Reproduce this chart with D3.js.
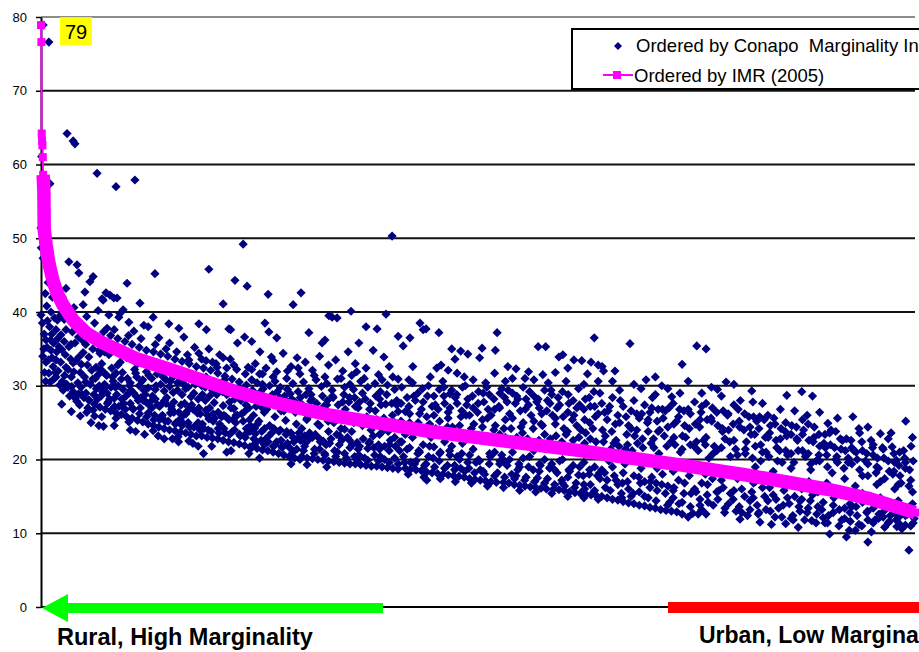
<!DOCTYPE html>
<html><head><meta charset="utf-8">
<script src="https://cdn.jsdelivr.net/npm/d3@7"></script>
<style>body{margin:0;background:#fff;overflow:hidden;} svg{display:block;font-family:Arial,"Liberation Sans",sans-serif;}</style>
</head><body><svg id="chart" width="919" height="652"></svg>
<script>
const yTicks = [0,10,20,30,40,50,60,70,80];
const seriesNames = ["Ordered by Conapo  Marginality Index", "Ordered by IMR (2005)"];
const endLabels = ["Rural, High Marginality", "Urban, Low Marginality"];
const peakLabel = "79";
const nMunicipalities = 2447;

// IMR (2005), municipalities sorted from highest to lowest: [rank, IMR]
const imrSorted = [
[0,78.9],[1,76.6],[2,64.2],[3,63.2],[4,62.6],[5,61.0],[6,58.6],[7,57.6],[8,56.4],[9,51.2],[10,50.8],
[14,49.2],[20,47.2],[25,46.0],[34,44.2],[45,42.6],[61,41.0],[90,38.9],[128,37.1],[173,35.8],[200,35.2],
[265,33.7],[355,32.3],[455,30.7],[545,29.2],[665,27.6],[810,26.0],[950,24.9],[1090,23.8],[1330,22.3],
[1510,21.2],[1620,20.4],[1785,19.3],[1975,17.9],[2210,15.9],[2320,14.7],[2447,12.8]
];

// IMR by municipality, ordered by Conapo marginality index: [rank, IMR]
const conapoPoints = [
[6,78.9],[22,76.6],[2,61.1],[25,57.4],[73,64.2],[90,63.2],[95,62.8],[157,58.8],[210,57.0],[263,57.9],
[0,51.4],[1,48.7],[6,47.3],[78,46.8],[101,46.4],[106,45.3],[146,44.8],[137,44.1],[123,42.7],[193,42.3],[213,41.9],[171,41.8],[277,41.2],[241,43.9],[319,45.2],[470,45.8],[543,44.3],[577,43.5],[566,49.2],[510,41.1],[636,42.4],[728,42.6],[706,41.0],
[221,39.8],[314,39.3],[358,38.4],[386,37.8],[442,38.4],[526,37.7],[627,38.5],[638,37.3],[750,37.2],[795,36.2],[806,39.5],
[0,39.6],[28,40.0],[14,36.2],[28,34.8],[42,33.5],[14,33.2],[22,31.7],[42,31.2],[42,37.6],[56,36.9],[4,38.5],[8,35.0],[10,31.8],[18,38.8],[30,37.0],[34,32.6],[36,30.9],[48,32.0],[50,35.3],[12,42.5],[20,44.0],[16,40.8],[32,42.0],[26,30.5],[46,38.9],
[78,35.3],[90,33.1],[134,33.9],[106,33.9],[154,32.5],[162,34.8],[112,29.8],[134,28.1],[146,26.7],
[60,30.6],[75,29.8],[90,29.2],[105,28.9],[120,28.4],[135,28.0],[150,27.5],[165,27.1],
[60,42.0],[80,39.8],[100,38.6],[120,37.6],[140,37.0],[160,36.4],
[65,36.0],[70,32.5],[85,31.2],[95,35.8],[110,31.8],[118,34.5],[125,30.5],[130,32.8],[145,30.9],[155,29.6],[160,31.5],[100,27.9],[128,26.4],[150,25.9],[65,39.0],[88,37.3],[115,36.2],[150,38.5],[70,43.2],[118,41.0],
[182,42.6],[204,41.9],[174,41.6],[230,40.3],[218,39.3],[246,38.6],[288,38.2],[210,25.6],[246,25.1],[314,23.9],[210,31.7],[265,31.7],[285,30.8],[294,27.8],
[180,26.8],[195,26.6],[210,26.3],[225,26.1],[240,25.8],[255,25.6],[270,25.3],[285,25.1],[300,24.8],
[175,37.3],[195,36.8],[215,36.4],[235,36.0],[255,35.6],[275,35.2],[295,34.8],
[180,31.6],[200,31.2],[225,30.9],[250,30.4],[275,30.0],[300,29.7],
[170,33.0],[185,29.0],[190,34.2],[205,28.3],[215,32.8],[230,29.5],[240,33.8],[250,27.6],[260,29.0],[270,33.0],[280,28.4],[295,31.9],[175,24.5],[225,27.3],[265,23.8],[300,26.3],[190,39.6],[260,37.4],[300,38.0],
[370,31.2],[414,33.5],[442,34.4],[342,27.7],[384,23.1],[414,22.5],[398,26.0],
[315,24.6],[330,24.4],[345,24.2],[360,24.0],[375,23.9],[390,23.7],[405,23.6],[420,23.4],[435,23.2],
[315,34.6],[335,34.3],[355,34.0],[375,33.6],[395,33.3],[415,33.0],[435,32.6],
[320,29.5],[345,29.3],[370,29.1],[395,28.8],[420,28.5],[440,28.2],
[310,27.0],[325,31.6],[340,26.0],[350,30.8],[365,27.2],[380,31.8],[390,25.5],[400,30.2],[410,26.6],[425,31.4],[440,25.0],[330,36.5],[360,35.8],[400,36.6],[430,35.2],[345,22.8],[385,22.4],[440,21.8],
[463,37.6],[531,37.6],[514,30.8],[526,29.0],[538,25.4],[462,26.7],[493,32.5],
[450,23.2],[465,23.0],[480,22.9],[495,22.8],[510,22.6],[525,22.4],[540,22.3],[555,22.1],[570,21.9],[585,21.7],
[455,32.4],[475,32.1],[495,31.7],[515,31.3],[535,30.9],[555,30.5],[575,30.1],
[460,28.0],[485,27.7],[510,27.3],[540,26.9],[570,26.5],
[450,30.0],[470,25.5],[480,29.4],[500,24.8],[520,28.8],[530,33.6],[545,25.0],[560,28.0],[575,24.2],[580,32.5],[470,35.0],[500,34.2],[550,35.8],[455,20.8],[520,21.0],[570,36.6],
[590,21.6],[605,21.5],[620,21.3],[635,21.2],[650,21.0],[665,20.8],[680,20.6],[695,20.4],[710,20.2],[725,20.0],[612,20.2],[700,19.4],
[590,30.8],[605,30.4],[620,30.2],[640,30.0],[655,30.6],[670,29.8],[690,29.5],[705,30.3],[720,29.2],
[595,26.0],[610,25.2],[625,26.4],[640,24.6],[655,25.8],[670,24.0],[685,25.3],[700,23.6],[715,24.8],[600,23.5],[630,22.8],[660,22.4],[690,22.2],[720,22.9],
[600,33.0],[613,34.6],[630,32.4],[645,33.9],[660,31.9],[678,34.4],[700,32.6],[717,33.8],[590,36.0],[660,36.5],
[730,20.4],[745,20.2],[760,20.1],[775,20.0],[790,19.9],[805,19.8],[820,19.7],[835,19.6],[850,19.5],[865,19.4],[745,19.3],[800,19.0],
[787,35.8],[815,39.3],[829,39.2],[868,40.1],
[735,30.5],[750,29.6],[770,30.8],[785,29.9],[800,30.3],[815,29.4],[830,30.9],[850,29.8],[865,30.2],
[740,33.2],[760,32.1],[780,34.0],[805,32.8],[825,33.5],[845,32.0],[860,34.6],
[730,24.2],[745,25.6],[760,23.0],[775,24.8],[790,22.5],[805,23.8],[820,25.0],[835,22.0],[850,24.1],[865,21.6],[740,22.2],[780,21.4],[830,21.0],[755,27.9],[800,27.4],[845,27.8],
[880,19.4],[895,19.3],[910,19.2],[925,19.1],[940,19.1],[955,19.0],[970,18.9],[985,18.8],[1000,18.7],
[983,50.3],[966,39.7],[910,38.0],[941,37.7],[1000,36.7],[960,33.9],[910,32.4],[884,31.9],[1000,30.9],
[875,29.5],[895,30.6],[915,29.8],[935,30.3],[950,29.2],[970,30.1],[990,29.5],
[880,33.0],[930,34.8],[975,32.6],[890,35.8],[945,31.5],
[870,23.8],[885,22.3],[900,24.6],[915,21.5],[930,23.2],[945,22.0],[960,24.0],[975,21.2],[990,23.0],[1005,22.4],[890,20.6],[950,20.4],[880,27.2],[920,26.8],[965,27.5],[1000,26.5],
[1020,18.8],[1035,18.7],[1050,18.6],[1065,18.5],[1080,18.3],[1095,18.2],[1110,18.1],[1125,18.0],[1140,17.9],[1080,17.2],
[1061,38.5],[1078,37.7],[1033,36.5],[1014,35.4],[1041,32.6],[1070,37.6],[1114,37.2],[1108,32.4],[1120,32.8],[1140,32.1],
[1010,29.8],[1025,28.4],[1040,30.4],[1055,29.0],[1070,27.8],[1085,30.0],[1100,28.6],[1115,29.5],[1130,27.6],[1145,28.9],[1020,26.5],[1060,26.2],[1100,26.0],[1140,25.6],
[1010,22.4],[1025,21.4],[1040,23.0],[1055,20.8],[1070,22.0],[1085,20.4],[1100,21.7],[1115,19.8],[1130,22.4],[1145,20.6],[1050,19.8],
[1155,17.8],[1170,17.7],[1185,17.6],[1200,17.4],[1215,17.3],[1230,17.2],[1245,17.1],[1260,17.0],[1275,16.9],
[1150,35.0],[1175,34.7],[1195,34.3],[1159,33.6],[1235,35.1],[1228,33.8],[1272,34.8],[1277,37.2],[1165,31.7],[1210,30.8],[1270,31.7],
[1150,29.4],[1165,27.6],[1180,29.8],[1195,28.2],[1210,27.0],[1225,29.2],[1240,27.8],[1255,28.8],[1270,26.8],[1285,29.0],[1190,26.0],[1250,25.6],
[1150,21.8],[1165,20.4],[1180,22.2],[1195,19.6],[1210,21.4],[1225,20.0],[1240,22.6],[1255,19.4],[1270,21.0],[1285,19.8],[1175,18.8],[1230,18.6],
[1295,16.9],[1310,16.8],[1325,16.6],[1340,16.5],[1355,16.4],[1370,16.3],[1385,16.2],[1400,16.1],[1415,16.0],
[1307,32.6],[1330,32.3],[1365,31.9],[1392,35.3],[1413,35.3],[1405,31.5],
[1290,29.6],[1305,27.8],[1320,29.0],[1335,28.2],[1350,29.8],[1365,27.4],[1380,28.6],[1395,27.0],[1410,29.4],[1425,27.6],[1300,25.4],[1350,25.0],[1400,24.8],[1320,31.0],[1380,30.8],
[1290,20.6],[1305,19.2],[1320,21.0],[1335,18.6],[1350,20.2],[1365,19.0],[1380,21.2],[1395,18.4],[1410,20.0],[1425,18.9],[1330,17.8],[1390,17.5],
[1435,16.0],[1450,15.9],[1465,15.8],[1480,15.6],[1495,15.5],[1510,15.4],[1525,15.3],[1540,15.2],[1555,15.1],
[1461,34.2],[1450,33.9],[1492,33.5],[1514,33.4],[1540,33.2],[1549,36.5],[1440,31.8],[1475,32.4],[1530,31.6],[1560,32.8],
[1430,28.8],[1445,27.0],[1460,29.2],[1475,26.4],[1490,28.0],[1505,29.6],[1520,26.8],[1535,28.4],[1550,27.2],[1565,29.0],[1440,24.8],[1500,24.6],[1545,24.2],[1470,23.4],[1525,23.6],
[1430,19.4],[1445,18.2],[1460,20.0],[1475,17.6],[1490,19.2],[1505,17.9],[1520,19.6],[1535,18.0],[1550,19.0],[1565,17.4],[1460,16.8],[1520,16.6],
[1570,15.0],[1585,14.8],[1600,14.6],[1615,14.5],[1630,14.3],[1645,14.1],[1660,14.0],[1675,13.8],[1690,13.7],[1705,13.5],
[1571,32.6],[1575,32.0],[1607,32.0],[1649,35.7],[1694,30.8],[1620,29.4],[1660,30.2],
[1570,27.6],[1585,25.4],[1600,28.4],[1615,26.0],[1630,27.2],[1645,24.6],[1660,28.0],[1675,25.6],[1690,27.4],[1705,26.4],[1580,23.2],[1610,22.6],[1640,23.4],[1670,22.2],[1700,23.8],[1595,21.4],[1655,21.2],
[1570,18.6],[1585,17.2],[1600,19.0],[1615,16.6],[1630,18.2],[1645,16.0],[1660,17.8],[1675,15.6],[1690,17.0],[1705,16.2],[1625,15.4],
[1720,13.4],[1735,13.2],[1750,13.1],[1765,13.0],[1780,12.9],[1795,12.6],[1812,12.2],[1825,12.7],[1840,12.6],
[1738,30.0],[1755,29.6],[1789,29.0],[1766,28.5],[1795,32.9],[1836,35.4],[1720,31.2],[1812,30.6],
[1710,27.0],[1725,25.2],[1740,26.8],[1755,24.4],[1770,27.6],[1785,25.8],[1800,26.6],[1815,24.2],[1830,27.8],[1845,25.4],[1715,22.8],[1745,23.2],[1775,22.0],[1805,23.0],[1835,22.4],[1730,20.8],[1790,21.0],
[1710,17.6],[1725,15.8],[1740,18.0],[1755,16.4],[1770,14.8],[1785,17.2],[1800,15.4],[1815,17.8],[1830,16.0],[1845,14.6],[1760,14.2],
[1862,35.0],[1877,29.8],[1894,29.5],[1918,30.5],[1940,30.2],[1958,28.0],
[1850,27.2],[1865,25.4],[1880,27.0],[1895,24.6],[1910,26.6],[1925,24.0],[1940,27.4],[1955,25.2],[1970,26.2],[1985,24.4],[1855,22.6],[1885,21.8],[1915,22.8],[1945,21.4],[1975,22.4],[1870,20.2],[1930,20.4],
[1850,16.8],[1865,15.2],[1880,17.4],[1895,14.6],[1910,16.2],[1925,14.0],[1940,15.8],[1955,13.6],[1970,15.0],[1985,13.2],[1862,12.6],[1957,11.9],[1900,18.2],
[1990,29.3],[1993,27.8],[2088,28.7],[2035,26.0],
[1995,25.8],[2010,24.2],[2025,25.4],[2040,23.6],[2055,24.8],[2070,22.8],[2085,25.0],[2100,23.4],[2115,24.4],[2000,21.8],[2030,21.0],[2060,21.6],[2090,20.6],[2120,21.2],[2015,19.8],[2075,19.6],
[1990,15.6],[2005,13.8],[2020,16.2],[2035,14.4],[2050,15.2],[2065,13.4],[2080,15.8],[2095,14.0],[2110,15.0],[2125,13.0],[2013,11.5],[2045,11.2],[2085,11.3],[2000,17.0],[2060,17.4],[2105,12.4],[2120,10.8],
[2000,19.0],[2050,18.4],[2100,18.8],[2150,17.0],[2200,16.8],[2250,17.4],[2300,17.8],[2350,17.0],[2400,16.6],
[2130,29.2],[2160,28.6],[2145,26.0],[2203,24.9],
[2135,24.0],[2150,22.6],[2165,24.4],[2180,21.8],[2195,23.4],[2210,22.0],[2225,23.8],[2240,21.4],[2255,22.8],[2140,20.4],[2170,19.8],[2200,20.6],[2230,19.6],[2260,20.2],[2155,18.6],[2215,18.2],
[2130,14.6],[2145,12.8],[2160,15.2],[2175,13.6],[2190,14.2],[2205,12.4],[2220,14.8],[2235,13.2],[2250,12.0],[2265,14.0],[2158,11.7],[2190,12.1],[2208,9.9],[2255,9.5],[2263,10.4],
[2273,25.8],[2315,24.4],[2350,23.5],[2421,25.2],[2330,22.0],
[2270,21.6],[2285,20.0],[2300,21.2],[2315,19.4],[2330,20.6],[2345,18.8],[2360,20.2],[2375,18.4],[2390,19.6],[2405,17.8],[2420,18.8],[2435,17.2],[2383,21.7],[2415,21.2],[2395,19.9],
[2270,13.6],[2285,12.4],[2300,14.2],[2315,11.8],[2330,13.4],[2345,12.0],[2360,13.0],[2375,11.6],[2390,12.8],[2405,11.2],[2420,12.4],[2435,11.0],[2280,10.4],[2315,8.8],[2325,10.2],[2372,11.4],[2396,10.9],[2430,7.7],[2420,11.1],[2300,15.4],[2350,14.8],[2400,14.4],[2440,14.0],[2280,16.4],[2340,16.6],[2390,16.0],[2440,15.6],
[5,34.0],[9,37.0],[13,30.6],[17,35.2],[21,33.5],[24,38.0],[27,36.2],[31,33.8],[35,35.8],[38,39.2],[40,31.8],[44,34.6],[47,36.4],[52,30.1],[55,33.2],[58,34.9],[62,29.4],[66,31.4],[68,34.2],[72,30.2],[76,32.2],[80,28.6],[83,33.6],[86,29.9],[92,31.9],[96,28.3],[98,33.4],[103,30.4],[108,27.4],[113,32.9],[116,28.8],[122,31.2],[126,29.0],[131,27.0],[138,30.2],[142,32.1],[148,28.8],[152,31.0],[158,28.2],[163,30.0],[70,37.6],[84,35.6],[105,36.6],[125,35.6],[145,35.0],[165,34.4],[58,27.5],[85,26.5],[110,25.9],[140,25.0],[162,24.6],[55,39.6],[92,40.6],[128,39.4],[160,40.2],
[168,28.6],[178,30.2],[188,27.8],[198,32.4],[208,29.8],[218,27.2],[228,31.8],[238,28.6],[248,30.0],[258,26.8],[268,31.2],[278,27.0],[288,29.4],[298,27.6],[178,34.6],[198,35.2],[228,34.4],[258,33.6],[288,33.2],
[170,25.8],[205,24.6],[250,24.0],[290,23.4],
[310,31.0],[320,28.2],[335,30.2],[350,27.6],[360,29.9],[372,26.4],[382,30.4],[392,27.4],[405,29.6],[415,27.0],[428,29.0],[438,26.3],
[318,26.0],[332,25.4],[348,25.2],[362,26.3],[378,25.0],[395,24.6],[412,25.0],[428,24.4],[445,24.0],
[328,23.2],[368,22.8],[425,22.2],
[460,29.8],[472,27.0],[484,30.6],[496,26.4],[508,29.2],[518,25.8],[528,27.8],[540,29.6],[550,26.0],[562,29.4],[574,27.4],[584,25.4],
[452,24.8],[468,24.0],[482,25.2],[498,23.6],[512,24.2],[528,23.4],[542,24.0],[558,23.2],[572,23.0],[585,23.8],
[478,21.8],[532,21.2],[582,20.8],
[462,33.4],[490,33.0],[520,32.4],[548,32.2],[572,31.6],
[595,28.6],[615,29.2],[632,28.0],[648,28.8],[668,28.4],[685,28.0],[698,28.9],[712,27.8],[726,28.4],[742,28.8],[758,28.2],[772,27.6],[788,28.6],[802,28.0],[818,28.4],[832,27.4],[848,28.8],[862,27.8],[878,28.4],[892,27.8],[908,28.2],[922,27.6],[938,28.6],[952,27.4],[968,28.8],[982,27.6],[996,28.0],
[598,24.2],[618,23.8],[638,23.2],[652,24.2],[672,22.6],[688,23.8],[708,22.4],[722,23.6],[738,23.2],[752,22.8],[768,23.4],[782,22.4],[798,22.0],[812,22.8],[828,23.4],[842,22.6],[858,23.0],[872,22.0],[888,21.4],[902,22.8],[918,22.2],[932,21.6],[948,23.4],[962,21.8],[978,22.6],[992,21.8],
[600,22.2],[625,22.0],[650,21.8],[675,21.6],[705,21.0],[735,21.2],[765,20.8],[795,20.6],[825,20.4],[855,20.2],[885,20.0],[915,19.9],[945,19.8],[975,19.6],[1000,19.4],
[612,31.6],[650,31.2],[688,31.0],[725,31.6],[765,31.4],[795,31.2],[840,31.0],[870,31.4],[905,31.0],[955,30.8],[985,31.2],
[620,27.0],[680,26.6],[740,26.6],[790,26.0],[840,25.8],[890,25.6],[940,25.4],[990,25.0],
[1008,27.6],[1030,27.2],[1048,28.0],[1065,26.8],[1082,28.6],[1095,27.2],[1112,26.8],[1128,28.6],[1145,27.0],[1160,28.4],[1178,26.6],[1192,27.4],[1208,28.6],[1222,26.4],[1238,29.0],[1252,26.8],[1268,28.2],[1282,27.2],[1298,28.4],[1312,26.2],[1328,27.6],[1342,26.6],[1358,28.2],[1372,26.0],[1388,27.8],[1402,26.2],[1418,28.0],[1432,26.0],[1448,28.4],[1462,25.8],[1478,27.6],[1492,26.0],[1508,27.4],[1522,25.4],[1538,27.2],[1552,25.8],
[1012,24.2],[1032,25.0],[1050,24.4],[1068,23.8],[1088,24.8],[1105,24.2],[1122,23.6],[1138,24.4],[1155,23.2],[1172,24.6],[1188,23.4],[1205,24.2],[1220,23.2],[1236,24.4],[1252,23.0],[1268,24.0],[1284,23.4],[1300,23.0],[1316,24.2],[1332,23.0],[1348,23.6],[1362,22.8],[1378,24.2],[1394,22.6],[1410,23.4],[1426,22.8],[1442,23.2],[1458,22.4],[1474,23.8],[1490,22.6],[1506,23.0],[1522,22.2],[1538,22.8],[1554,22.4],
[1015,20.4],[1035,19.6],[1058,21.2],[1078,19.4],[1098,20.2],[1118,21.0],[1138,19.2],[1158,19.2],[1178,20.8],[1198,18.8],[1218,19.6],[1238,18.4],[1258,20.4],[1278,18.2],[1298,19.8],[1318,18.0],[1338,19.4],[1358,17.6],[1378,18.6],[1398,19.2],[1418,17.4],[1438,18.6],[1458,17.2],[1478,18.6],[1498,16.8],[1518,17.8],[1538,16.6],[1558,17.8],
[1030,30.8],[1090,31.2],[1125,30.6],[1185,31.2],[1245,30.4],[1300,30.6],[1355,31.0],[1420,30.4],[1470,30.6],[1520,30.2],[1560,30.6],
[1028,18.0],[1072,17.6],[1118,17.4],[1160,17.0],[1205,16.8],[1250,16.4],[1295,16.2],[1340,15.8],[1385,15.6],[1430,15.4],[1475,15.0],[1520,14.8],[1560,14.6],
[1578,26.4],[1592,27.2],[1608,24.8],[1622,28.0],[1638,25.8],[1652,26.6],[1668,24.0],[1682,26.2],[1698,25.0],[1712,28.4],[1728,26.8],[1742,25.6],[1758,27.0],[1772,24.8],[1788,26.8],[1802,24.6],[1818,26.2],[1832,24.8],[1848,26.4],[1862,27.6],[1878,25.2],[1892,26.4],[1908,24.2],[1922,26.0],[1938,24.8],[1952,26.8],[1968,24.0],[1982,25.8],[1998,23.4],[2012,25.8],[2028,23.0],[2042,24.6],[2058,22.6],[2072,24.2],[2088,23.2],[2102,24.6],[2118,22.6],[2132,23.4],[2148,24.8],[2162,22.4],[2178,23.4],[2192,22.2],[2208,23.6],[2222,21.6],[2238,22.8],[2252,21.2],[2268,22.6],[2282,21.0],[2298,22.4],[2312,20.8],[2328,21.6],[2342,20.2],[2358,21.4],[2372,19.8],[2388,20.8],[2402,19.2],[2418,20.2],[2432,18.6],[2442,19.8],
[1575,22.4],[1598,23.8],[1618,21.8],[1642,22.0],[1662,23.2],[1685,21.6],[1708,22.2],[1728,23.8],[1752,21.8],[1772,23.0],[1795,21.4],[1818,22.0],[1840,21.2],[1862,23.0],[1882,20.8],[1905,21.6],[1928,22.4],[1950,20.6],[1972,21.4],[1992,20.2],[2015,22.0],[2038,20.4],[2062,19.8],[2085,21.2],[2108,19.6],[2132,21.2],[2155,19.4],[2178,20.6],[2202,19.0],[2225,20.0],[2248,18.8],[2270,19.4],[2292,18.6],[2315,17.8],[2338,18.2],[2362,17.4],[2385,18.0],[2408,16.8],[2430,16.4],
[1580,16.2],[1605,17.8],[1628,16.8],[1652,15.0],[1678,16.8],[1700,14.8],[1722,16.8],[1748,15.4],[1772,16.2],[1795,14.2],[1820,15.4],[1845,13.8],[1868,14.2],[1892,15.6],[1915,13.4],[1938,14.6],[1962,12.8],[1985,14.4],[2008,12.6],[2030,13.2],[2055,12.2],[2078,13.8],[2100,12.0],[2125,14.4],[2148,13.4],[2172,12.6],[2195,11.4],[2218,12.8],[2242,11.8],[2265,12.8],[2290,11.2],[2312,12.8],[2335,11.8],[2358,12.2],[2380,13.6],[2402,12.2],[2425,13.2],[2445,12.0],
[1590,19.8],[1635,19.4],[1680,18.8],[1725,18.8],[1770,18.4],[1815,18.6],[1860,18.0],[1905,17.2],[1950,17.4],[1995,16.8],[2040,16.2],[2085,16.4],[2130,16.0],[2175,15.6],[2220,15.4],[2265,15.0],[2310,14.6],[2355,14.2],[2400,13.6],
[1600,30.6],[1680,29.6],[1720,28.8],[1850,29.0],[1905,28.6],[2020,27.6],[2070,26.8],[2110,26.6],[2180,26.4],[2230,25.6],[2290,24.2],[2380,23.6],[2440,23.0],
[168,32.2],[176,29.6],[184,31.4],[192,28.2],[202,30.6],[212,28.8],[222,33.2],[232,27.6],[242,31.0],[252,29.4],[262,32.2],[272,28.0],[282,30.6],[292,28.8],[302,31.4],[312,28.6],[322,30.0],[332,27.2],[342,31.2],[352,28.4],[362,30.6],[372,27.8],[382,29.4],[392,31.0],[402,27.6],[412,29.8],[422,27.4],[432,30.2],[442,27.0],[452,28.8],[462,31.2],[472,28.6],[482,26.2],[492,28.8],[502,30.2],[512,26.0],[522,29.6],[532,27.0],[542,28.2],[552,29.0],[562,26.2],[572,28.8],[582,27.0],[592,29.4],[602,27.2],[612,28.0],[622,29.6],[632,26.8],[642,28.4],[652,27.4],[662,29.2],[672,26.6],[682,28.6],[692,27.0],[702,28.2],[712,26.4],[722,27.4],
[172,29.2],[186,27.6],[196,29.8],[206,27.2],[216,30.0],[226,28.2],[236,26.8],[246,29.0],[256,27.0],[266,28.6],[276,26.2],[286,28.0],[296,25.8],[306,27.8],[316,25.4],[326,27.4],[336,25.8],[346,28.0],[356,25.2],[366,26.8],[376,24.8],[386,26.4],[396,25.0],[406,26.2],[416,24.4],[426,26.8],[436,24.6],[446,26.2],[456,24.2],[466,26.0],[476,23.8],[486,25.6],[496,24.2],[506,25.8],[516,23.6],[526,25.4],[536,23.8],[546,26.0],[556,23.4],[566,25.2],[576,23.6],[586,24.6],[596,22.8],[606,24.8],[616,22.6],[626,24.2],[636,22.4],[646,23.6],[656,22.0],[666,23.8],[676,21.8],[686,23.4],[696,21.6],[706,23.0],[716,21.4],[726,22.6],
[185,37.8],[205,37.6],[245,36.8],[280,36.4],[320,35.6],[350,35.0],[380,34.6],[410,34.2],[450,33.6],[480,33.2],[510,33.8],[540,32.8],[590,32.2],[620,31.6],[650,33.4],[690,32.0],[720,32.4],
[732,27.4],[744,25.4],[756,28.8],[768,26.2],[780,24.6],[792,27.2],[804,25.2],[816,28.6],[828,26.0],[840,24.2],[852,26.8],[864,28.4],[876,25.0],[888,27.0],[900,29.0],[912,25.8],[924,24.0],[936,26.6],[948,28.2],[960,25.6],[972,23.8],[984,26.0],[996,27.4],[1008,25.2],[1020,23.4],[1032,26.2],[1044,28.6],[1056,25.0],[1068,29.6],[1080,25.8],[1092,23.0],[1104,27.4],[1116,25.2],[1128,29.8],[1140,26.4],[1152,24.4],[1164,28.8],[1176,25.8],[1188,30.0],[1200,26.0],[1212,24.8],[1224,27.6],[1236,25.4],[1248,29.8],[1260,26.0],[1272,24.6],[1284,27.0],[1296,24.2],[1308,29.4],[1320,25.6],[1332,28.6],[1344,24.4],[1356,26.8],[1368,29.2],[1380,25.2],[1392,28.2],[1404,24.6],[1416,26.6],[1428,29.4],[1440,25.6],[1452,27.4],[1464,24.2],[1476,28.8],[1488,25.4],[1500,27.0],[1512,24.0],[1524,28.2],[1536,25.0],[1548,29.2],[1560,26.2],
[738,21.8],[752,23.6],[766,21.4],[780,22.8],[794,20.8],[808,22.2],[822,21.2],[836,23.2],[850,20.8],[864,22.6],[878,20.4],[892,21.8],[906,20.2],[920,22.4],[934,20.6],[948,21.4],[962,20.0],[976,22.0],[990,20.2],[1004,21.2],[1018,19.6],[1032,21.6],[1046,19.4],[1060,21.0],[1074,19.2],[1088,21.8],[1102,19.0],[1116,20.8],[1130,18.8],[1144,21.2],[1158,18.6],[1172,20.0],[1186,18.4],[1200,20.6],[1214,18.2],[1228,19.8],[1242,18.0],[1256,20.8],[1270,17.8],[1284,19.4],[1298,17.6],[1312,20.0],[1326,17.4],[1340,19.0],[1354,17.2],[1368,20.4],[1382,17.0],[1396,19.4],[1410,16.8],[1424,18.8],[1438,16.6],[1452,19.8],[1466,16.4],[1480,18.4],[1494,16.2],[1508,19.0],[1522,16.0],[1536,18.6],[1550,15.8],[1564,18.2],
[1572,24.0],[1588,26.6],[1604,22.2],[1620,25.0],[1636,21.4],[1652,24.2],[1668,26.2],[1684,22.8],[1700,25.4],[1716,21.6],[1732,24.0],[1748,26.6],[1764,22.4],[1780,25.2],[1796,23.2],[1812,26.8],[1828,21.8],[1844,24.4],[1860,22.0],[1876,25.6],[1892,21.2],[1908,23.8],[1924,26.2],[1940,22.6],[1956,24.4],[1972,20.8],[1988,23.4],[2004,25.2],[2020,21.0],[2036,23.0],[2052,25.6],[2068,21.2],[2084,23.8],[2100,20.8],[2116,22.8],[2132,25.4],[2148,20.8],[2164,23.0],[2180,19.8],[2196,21.6],[2212,24.0],[2228,20.4],[2244,22.6],[2260,19.6],[2276,21.2],[2292,23.6],[2308,19.8],[2324,22.6],[2340,19.0],[2356,21.6],[2372,22.8],[2388,18.4],[2404,21.0],[2420,19.6],[2436,21.8],
[1578,18.2],[1594,15.8],[1610,17.2],[1626,14.8],[1642,17.0],[1658,15.4],[1674,17.6],[1690,15.0],[1706,17.0],[1722,14.4],[1738,16.6],[1754,13.8],[1770,15.8],[1786,14.0],[1802,16.8],[1818,13.6],[1834,15.6],[1850,13.2],[1866,16.6],[1882,13.8],[1898,15.8],[1914,12.8],[1930,15.4],[1946,13.0],[1962,16.0],[1978,12.4],[1994,14.8],[2010,12.8],[2026,15.0],[2042,13.0],[2058,14.6],[2074,12.2],[2090,14.8],[2106,11.8],[2122,13.6],[2138,11.8],[2154,14.4],[2170,11.4],[2186,13.2],[2202,11.4],[2218,13.8],[2234,11.0],[2250,13.4],[2266,11.6],[2282,13.6],[2298,11.0],[2314,13.0],[2330,11.4],[2346,12.6],[2362,10.8],[2378,12.4],[2394,11.8],[2410,10.6],[2426,12.6],[2442,11.4]
];

const svg = d3.select("#chart");
const plotL = 41, plotR = 915, plotT = 17, plotB = 607;
const x = d3.scaleLinear().domain([0, nMunicipalities]).range([plotL, plotR]);
const y = d3.scaleLinear().domain([0, 80]).range([plotB, plotT]);

svg.append("rect").attr("width", 919).attr("height", 652).attr("fill", "#fff");

// gridlines
svg.append("g").selectAll("line").data(yTicks.filter(d => d > 0)).join("line")
  .attr("x1", plotL).attr("x2", plotR)
  .attr("y1", d => y(d)).attr("y2", d => y(d))
  .attr("stroke", d => d === 80 ? "#8c8c8c" : "#111")
  .attr("stroke-width", 1.8);

// y axis
const yAxis = svg.append("g").attr("transform", `translate(${plotL},0)`)
  .call(d3.axisLeft(y).tickValues(yTicks).tickSize(5).tickSizeOuter(0).tickPadding(9));
yAxis.select(".domain").attr("stroke", "#000").attr("stroke-width", 2);
yAxis.selectAll(".tick line").attr("stroke", "#000").attr("stroke-width", 1.5);
yAxis.selectAll("text").attr("font-size", 13).attr("fill", "#000")
  .attr("font-family", "Arial, 'Liberation Sans', sans-serif");

// x axis baseline
svg.append("line").attr("x1", plotL).attr("x2", plotR).attr("y1", y(0)).attr("y2", y(0))
  .attr("stroke", "#000").attr("stroke-width", 2);

// scatter: diamonds
const diamond = "M0,-4.6L4.6,0L0,4.6L-4.6,0Z";
svg.append("g").selectAll("path").data(conapoPoints).join("path")
  .attr("d", diamond)
  .attr("transform", d => `translate(${x(d[0])},${y(d[1])})`)
  .attr("fill", "#000080");

// IMR sorted line
const line = d3.line().x(d => x(d[0])).y(d => y(d[1]));
svg.append("path").datum(imrSorted).attr("d", line)
  .attr("fill", "none").attr("stroke", "#ff00ff").attr("stroke-width", 2);
svg.append("path").datum(imrSorted.filter(d => d[1] <= 58.6)).attr("d", line)
  .attr("fill", "none").attr("stroke", "#ff00ff").attr("stroke-width", 13.5)
  .attr("stroke-linejoin", "round");
svg.append("g").selectAll("rect").data(imrSorted).join("rect")
  .attr("x", d => x(d[0]) - 4).attr("y", d => y(d[1]) - 4)
  .attr("width", 8).attr("height", 8).attr("fill", "#ff00ff");

// peak label
const peak = imrSorted[0];
svg.append("rect").attr("x", x(peak[0]) + 19).attr("y", y(peak[1]) - 8)
  .attr("width", 32).attr("height", 28).attr("fill", "#ffff00");
svg.append("text").attr("x", x(peak[0]) + 35).attr("y", y(peak[1]) + 14)
  .attr("text-anchor", "middle").attr("font-size", 20).attr("fill", "#000").text(peakLabel);

// legend
const lg = svg.append("g");
lg.append("rect").attr("x", 572).attr("y", 29).attr("width", 380).attr("height", 60)
  .attr("fill", "#fff").attr("stroke", "#000").attr("stroke-width", 2);
lg.append("path").attr("d", "M0,-4L4,0L0,4L-4,0Z").attr("transform", "translate(618,46)").attr("fill", "#000080");
lg.append("text").attr("x", 636).attr("y", 52).attr("font-size", 18.5).attr("fill", "#000")
  .attr("xml:space", "preserve").text(seriesNames[0]);
lg.append("line").attr("x1", 603).attr("x2", 633).attr("y1", 75).attr("y2", 75)
  .attr("stroke", "#ff00ff").attr("stroke-width", 2);
lg.append("rect").attr("x", 613).attr("y", 71).attr("width", 8).attr("height", 8).attr("fill", "#ff00ff");
lg.append("text").attr("x", 634).attr("y", 82).attr("font-size", 18.5).attr("fill", "#000").text(seriesNames[1]);

// direction arrows
svg.append("rect").attr("x", 67).attr("y", 603).attr("width", 316).attr("height", 10).attr("fill", "#00ff00");
svg.append("path").attr("d", "M42,608L68,594L68,622Z").attr("fill", "#00ff00");
svg.append("rect").attr("x", 668).attr("y", 602).attr("width", 260).attr("height", 11).attr("fill", "#ff0000");

svg.append("text").attr("x", 57).attr("y", 645).attr("font-size", 23.5).attr("font-weight", "bold")
  .attr("fill", "#000").text(endLabels[0]);
svg.append("text").attr("x", 699).attr("y", 643).attr("font-size", 23).attr("font-weight", "bold")
  .attr("fill", "#000").text(endLabels[1]);
</script>
</body></html>
